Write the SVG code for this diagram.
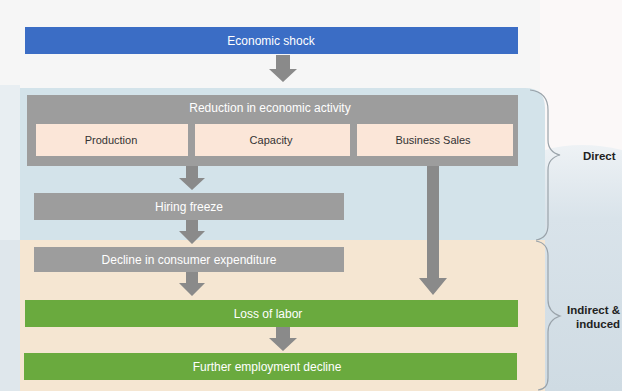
<svg xmlns="http://www.w3.org/2000/svg" width="622" height="391" viewBox="0 0 622 391">
  <defs>
    <linearGradient id="water" x1="0" y1="0" x2="0" y2="1">
      <stop offset="0" stop-color="#eef2f5"/>
      <stop offset="0.3" stop-color="#d9e3ea"/>
      <stop offset="1" stop-color="#cfdbe3"/>
    </linearGradient>
    <style>
      .lbl { font-family: "Liberation Sans", Arial, sans-serif; font-size: 12px; fill: #ffffff; text-anchor: middle; }
      .sub { font-family: "Liberation Sans", Arial, sans-serif; font-size: 11px; fill: #333333; text-anchor: middle; }
      .side { font-family: "Liberation Sans", Arial, sans-serif; font-size: 11.5px; font-weight: bold; fill: #222222; }
      .gray { fill: #9d9d9d; }
      .arrow { fill: #8a8a8a; }
      .green { fill: #6aaa3e; }
      .peach { fill: #fbe6d8; }
      .brace { fill: none; stroke: #9aa3aa; stroke-width: 1.2; }
    </style>
  </defs>

  <!-- background -->
  <rect x="0" y="0" width="622" height="391" fill="#f6f6f6"/>
  <rect x="540" y="0" width="82" height="391" fill="#fbf8f8"/>
  <path d="M545 150 Q580 140 622 150 L622 391 L545 391 Z" fill="url(#water)"/>
  <rect x="0" y="240" width="20" height="151" fill="#dfe7ec"/>
  <rect x="0" y="85" width="20" height="155" fill="#e8eef2"/>

  <!-- panels -->
  <path d="M20 88 H525 Q545 88 545 108 V240 H20 Z" fill="#d3e3ea"/>
  <path d="M20 240 H545 V391 H20 Z" fill="#f5e6d2"/>

  <!-- braces -->
  <g id="braces">
    <path class="brace" d="M530 90 Q548 92 548 110 V140 Q548 152 560 155 Q548 158 548 170 V225 Q548 238 536 240"/>
    <path class="brace" d="M536 241 Q548 243 548 256 V300 Q548 312 560 316 Q548 320 548 332 V378 Q548 389 538 390"/>
  </g>

  <!-- connectors -->
  <g id="connectors">
    <path class="arrow" d="M276 55 H290 V69 H297 L283 82 L269 69 H276 Z"/>
    <path class="arrow" d="M186 166 H198 V178 H205 L192 190 L179 178 H186 Z"/>
    <path class="arrow" d="M186 220 H198 V231 H205 L192 244 L179 231 H186 Z"/>
    <path class="arrow" d="M186 272 H198 V283 H205 L192 296 L179 283 H186 Z"/>
    <path class="arrow" d="M427 166 H439 V278 H447 L433 295 L419 278 H427 Z"/>
    <path class="arrow" d="M276 327 H290 V338 H297 L283 351 L269 338 H276 Z"/>
  </g>

  <g id="economic-shock">
    <rect x="25" y="27" width="493" height="27" fill="#3b6dc5"/>
    <text class="lbl" x="271" y="45">Economic shock</text>
  </g>

  <g id="reduction">
    <rect class="gray" x="27" y="95" width="491" height="71"/>
    <text class="lbl" x="270" y="112">Reduction in economic activity</text>
  </g>
  <g id="production">
    <rect class="peach" x="36" y="124" width="152" height="32"/>
    <text class="sub" x="111" y="144">Production</text>
  </g>
  <g id="capacity">
    <rect class="peach" x="195" y="124" width="155" height="32"/>
    <text class="sub" x="271" y="144">Capacity</text>
  </g>
  <g id="business-sales">
    <rect class="peach" x="357" y="124" width="156" height="32"/>
    <text class="sub" x="433" y="144">Business Sales</text>
  </g>

  <g id="hiring-freeze">
    <rect class="gray" x="34" y="193" width="310" height="27"/>
    <text class="lbl" x="189" y="211">Hiring freeze</text>
  </g>

  <g id="decline-expenditure">
    <rect class="gray" x="34" y="247" width="310" height="25"/>
    <text class="lbl" x="189" y="264">Decline in consumer expenditure</text>
  </g>

  <g id="loss-of-labor">
    <rect class="green" x="25" y="300" width="493" height="27"/>
    <text class="lbl" x="268" y="318">Loss of labor</text>
  </g>

  <g id="further-decline">
    <rect class="green" x="24" y="353" width="493" height="27"/>
    <text class="lbl" x="267" y="371">Further employment decline</text>
  </g>

  <g id="labels">
    <text class="side" x="583" y="160">Direct</text>
    <text class="side" x="567" y="314">Indirect &amp;</text>
    <text class="side" x="576" y="328">induced</text>
  </g>
</svg>
